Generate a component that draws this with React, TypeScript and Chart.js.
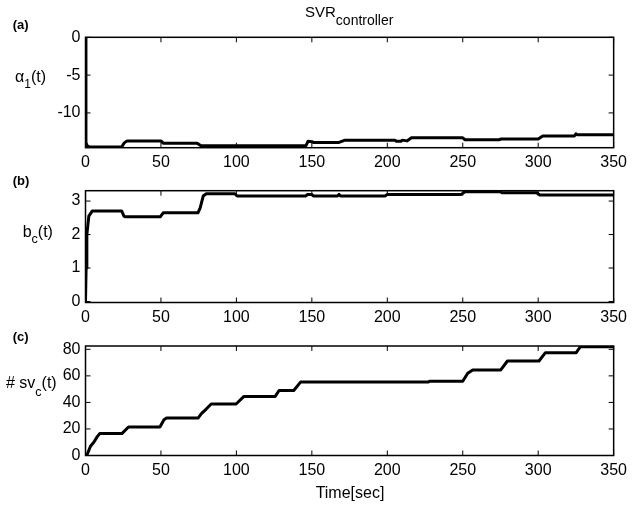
import React, { useEffect, useRef } from "react";
import { Chart, registerables } from "chart.js";

Chart.register(...registerables);

// ---- data ----
const xTicks = [0, 50, 100, 150, 200, 250, 300, 350];

const tA = [0, 0.3, 1, 2.5, 24, 25.5, 27.5, 50, 51.5, 74, 76.5, 146, 147.5, 150, 151, 168, 172, 205, 206, 209, 210, 213, 216, 250, 251.5, 274, 275.5, 300, 303, 324, 325, 326, 350];
const alphaA = [0, -13.9, -14.3, -14.5, -14.5, -14.0, -13.7, -13.7, -14.0, -14.0, -14.35, -14.35, -13.75, -13.8, -13.9, -13.9, -13.6, -13.6, -13.75, -13.75, -13.6, -13.7, -13.3, -13.3, -13.55, -13.55, -13.45, -13.45, -13.05, -13.05, -12.75, -12.9, -12.9];
const yTicksA = [0, -5, -10];

const tB = [0, 0.3, 0.4, 0.9, 2.2, 4.4, 24, 25.5, 26.5, 49.5, 51.5, 74.5, 76, 78, 80, 99, 100.5, 146, 147, 150, 151, 167, 168, 169, 198.5, 200, 249, 251.5, 275, 276, 299, 301, 350];
const bcB = [0, 0, 1.0, 2.0, 2.55, 2.7, 2.7, 2.55, 2.53, 2.53, 2.65, 2.65, 2.8, 3.15, 3.22, 3.22, 3.15, 3.15, 3.2, 3.2, 3.15, 3.15, 3.2, 3.15, 3.15, 3.2, 3.2, 3.28, 3.28, 3.25, 3.25, 3.18, 3.18];
const yTicksB = [0, 1, 2, 3];

const tC = [0, 1.1, 3.3, 5.5, 7.7, 9.4, 24.1, 28.5, 49.3, 52, 53.7, 74.6, 76.8, 80, 83.3, 99.8, 105, 125.7, 128.3, 138, 142.5, 227, 228, 250, 253.3, 256.6, 275.2, 279.6, 300.5, 304.8, 325.2, 328, 350];
const svC = [0, 0.75, 7, 10, 14, 16.5, 16.5, 21.5, 21.5, 27, 28.2, 28.2, 31.5, 35, 38.8, 38.8, 44.5, 44.5, 49, 49, 55.3, 55.3, 56, 56, 62, 64.5, 64.5, 71.2, 71.2, 77.5, 77.5, 82, 82];
const yTicksC = [0, 20, 40, 60, 80];

const FONT = "'Liberation Sans', Arial, Helvetica, sans-serif";
const W = 632;
const H = 506;
const AREA_LEFT = 85.5;
const AREA_RIGHT = 617;

type Run = { text: string; size: number; dy?: number; bold?: boolean };

function drawRuns(ctx: CanvasRenderingContext2D, x: number, y: number, runs: Run[], align: "left" | "center" = "left") {
  let total = 0;
  const widths: number[] = [];
  runs.forEach((r) => {
    ctx.font = `${r.bold ? "bold " : ""}${r.size}px ${FONT}`;
    const w = ctx.measureText(r.text).width;
    widths.push(w);
    total += w;
  });
  let cx = align === "center" ? x - total / 2 : x;
  runs.forEach((r, i) => {
    ctx.font = `${r.bold ? "bold " : ""}${r.size}px ${FONT}`;
    ctx.fillText(r.text, cx, y + (r.dy || 0));
    cx += widths[i];
  });
}

const framePlugin = {
  id: "frame",
  afterDatasetsDraw(chart: any) {
    const { ctx, chartArea, scales } = chart;
    const { left, right, top, bottom } = chartArea;
    ctx.save();
    ctx.strokeStyle = "#000";
    ctx.lineWidth = 1.5;
    ctx.strokeRect(left, top, right - left, bottom - top);
    ctx.lineWidth = 1;
    ctx.beginPath();
    scales.x.ticks.forEach((t: any) => {
      const p = scales.x.getPixelForValue(t.value);
      ctx.moveTo(p, bottom);
      ctx.lineTo(p, bottom - 5);
      ctx.moveTo(p, top);
      ctx.lineTo(p, top + 5);
    });
    scales.y.ticks.forEach((t: any) => {
      const p = scales.y.getPixelForValue(t.value);
      ctx.moveTo(left, p);
      ctx.lineTo(left + 5, p);
      ctx.moveTo(right, p);
      ctx.lineTo(right - 5, p);
    });
    ctx.stroke();
    ctx.restore();
  },
};

const textPlugin = {
  id: "texts",
  afterDraw(chart: any) {
    const ctx: CanvasRenderingContext2D = chart.ctx;
    ctx.save();
    ctx.fillStyle = "#000";
    ctx.textBaseline = "alphabetic";
    ctx.textAlign = "left";
    // title
    drawRuns(ctx, 305, 16.7, [
      { text: "SVR", size: 15 },
      { text: "controller", size: 14, dy: 8.3 },
    ]);
    // panel letters
    drawRuns(ctx, 12.7, 29.4, [{ text: "(a)", size: 13, bold: true }]);
    drawRuns(ctx, 12.7, 184.6, [{ text: "(b)", size: 13, bold: true }]);
    drawRuns(ctx, 12.7, 341.1, [{ text: "(c)", size: 13, bold: true }]);
    // y titles
    drawRuns(ctx, 15, 81.7, [
      { text: "α", size: 16 },
      { text: "1", size: 12, dy: 6.3 },
      { text: "(t)", size: 16 },
    ]);
    drawRuns(ctx, 22.7, 236.7, [
      { text: "b", size: 16 },
      { text: "c", size: 12.5, dy: 6.3 },
      { text: "(t)", size: 16 },
    ]);
    drawRuns(ctx, 6, 388.3, [
      { text: "# sv", size: 16 },
      { text: "c", size: 12.5, dy: 7.7 },
      { text: "(t)", size: 16 },
    ]);
    drawRuns(ctx, 350, 497.5, [{ text: "Time[sec]", size: 16 }], "center");
    ctx.restore();
  },
};

function makeChart(
  canvas: HTMLCanvasElement,
  xs: number[],
  ys: number[],
  yMin: number,
  yMax: number,
  yTicks: number[],
  areaTop: number,
  areaBottom: number,
  withTexts: boolean
) {
  const data = xs.map((x, i) => ({ x, y: ys[i] }));
  return new Chart(canvas, {
    type: "line",
    data: {
      datasets: [
        {
          data,
          borderColor: "#000",
          borderWidth: 3,
          pointRadius: 0,
          tension: 0,
          fill: false,
          borderJoinStyle: "round",
          borderCapStyle: "round",
        } as any,
      ],
    },
    options: {
      responsive: false,
      animation: false,
      events: [],
      layout: { padding: { top: areaTop, right: W - AREA_RIGHT, left: 0, bottom: 0 } },
      plugins: { legend: { display: false }, tooltip: { enabled: false }, title: { display: false } },
      scales: {
        x: {
          type: "linear",
          min: 0,
          max: 350,
          grid: { display: false, drawTicks: false },
          border: { display: false },
          ticks: { color: "#000", font: { family: FONT, size: 16 }, padding: 5, maxRotation: 0, autoSkip: false },
          afterBuildTicks: (s: any) => {
            s.ticks = xTicks.map((v) => ({ value: v }));
          },
          afterFit: (s: any) => {
            s.height = H - areaBottom;
          },
        },
        y: {
          type: "linear",
          min: yMin,
          max: yMax,
          grid: { display: false, drawTicks: false },
          border: { display: false },
          ticks: { color: "#000", font: { family: FONT, size: 16 }, padding: 5, autoSkip: false },
          afterBuildTicks: (s: any) => {
            s.ticks = yTicks.map((v) => ({ value: v }));
          },
          afterFit: (s: any) => {
            s.width = AREA_LEFT;
          },
        },
      },
    } as any,
    plugins: withTexts ? [framePlugin, textPlugin] : [framePlugin],
  });
}

export default function App() {
  const refA = useRef<HTMLCanvasElement>(null);
  const refB = useRef<HTMLCanvasElement>(null);
  const refC = useRef<HTMLCanvasElement>(null);

  useEffect(() => {
    const charts = [
      makeChart(refA.current!, tA, alphaA, -14.6, 0, yTicksA, 37.3, 147.7, true),
      makeChart(refB.current!, tB, bcB, -0.03, 3.31, yTicksB, 190.7, 302.5, false),
      makeChart(refC.current!, tC, svC, 0, 82.5, yTicksC, 346, 455.5, false),
    ];
    return () => charts.forEach((c) => c.destroy());
  }, []);

  const style: React.CSSProperties = { position: "absolute", left: 0, top: 0, width: W, height: H };
  return (
    <div style={{ position: "absolute", left: 0, top: 0, width: W, height: H, background: "#fff" }}>
      <canvas ref={refA} width={W} height={H} style={style} />
      <canvas ref={refB} width={W} height={H} style={style} />
      <canvas ref={refC} width={W} height={H} style={style} />
    </div>
  );
}
